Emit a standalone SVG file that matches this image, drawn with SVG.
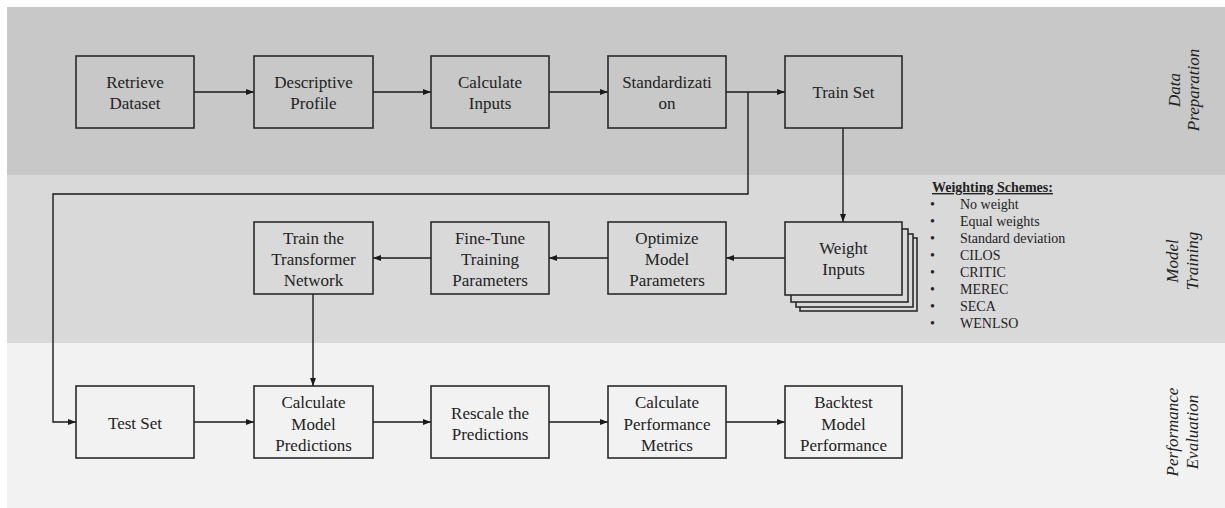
<svg xmlns="http://www.w3.org/2000/svg" width="1225" height="508" viewBox="0 0 1225 508">
<style>
.box{stroke:#2a2a2a;stroke-width:1.6}
.b1{fill:#c8c8c8}.b2{fill:#d9d9d9}.b3{fill:#f2f2f2}
.t{font-family:"Liberation Serif","Times New Roman",serif;font-size:17px;fill:#222;text-anchor:middle}
.lab{font-family:"Liberation Serif","Times New Roman",serif;font-size:17px;font-style:italic;fill:#222;text-anchor:middle}
.ws{font-family:"Liberation Serif","Times New Roman",serif;font-size:14px;fill:#222}
.c{fill:none;stroke:#1a1a1a;stroke-width:1.4}
.a{marker-end:url(#ah)}
</style>
<defs>
<marker id="ah" markerUnits="userSpaceOnUse" markerWidth="9" markerHeight="7" refX="8" refY="3" orient="auto">
<path d="M0,0 L8,3 L0,6 z" fill="#1a1a1a"/>
</marker>
</defs>
<rect width="1225" height="508" fill="#ffffff"/>
<g id="bands">
<rect x="7" y="7" width="1218" height="168" fill="#c8c8c8"/>
<rect x="7" y="175" width="1218" height="168" fill="#d9d9d9"/>
<rect x="7" y="343" width="1218" height="165" fill="#f2f2f2"/>
</g>
<g id="phase-labels">
<g transform="translate(1187,90) rotate(-90)"><text class="lab" y="-7">Data</text><text class="lab" y="12">Preparation</text></g>
<g transform="translate(1187,261) rotate(-90)"><text class="lab" y="-9">Model</text><text class="lab" y="11">Training</text></g>
<g transform="translate(1187,432) rotate(-90)"><text class="lab" y="-9">Performance</text><text class="lab" y="11">Evaluation</text></g>
</g>
<g id="connectors">
<line class="c a" x1="194" y1="92" x2="254" y2="92"/>
<line class="c a" x1="373" y1="92" x2="431" y2="92"/>
<line class="c a" x1="549" y1="92" x2="608" y2="92"/>
<line class="c a" x1="726" y1="92" x2="785" y2="92"/>
<polyline class="c a" points="748,92 748,194 53,194 53,422 76,422"/>
<line class="c a" x1="843" y1="128" x2="843" y2="222"/>
<line class="c a" x1="785" y1="258" x2="726" y2="258"/>
<line class="c a" x1="608" y1="258" x2="549" y2="258"/>
<line class="c a" x1="431" y1="258" x2="373" y2="258"/>
<line class="c a" x1="313" y1="294" x2="313" y2="386"/>
<line class="c a" x1="194" y1="422" x2="254" y2="422"/>
<line class="c a" x1="373" y1="422" x2="431" y2="422"/>
<line class="c a" x1="549" y1="422" x2="608" y2="422"/>
<line class="c a" x1="726" y1="422" x2="785" y2="422"/>
</g>
<g id="retrieve-dataset"><rect class="box b1" x="76" y="56" width="118" height="72"/><text class="t" x="135" y="88">Retrieve</text><text class="t" x="135" y="109">Dataset</text></g>
<g id="descriptive-profile"><rect class="box b1" x="254" y="56" width="119" height="72"/><text class="t" x="313.5" y="88">Descriptive</text><text class="t" x="313.5" y="109">Profile</text></g>
<g id="calculate-inputs"><rect class="box b1" x="431" y="56" width="118" height="72"/><text class="t" x="490" y="88">Calculate</text><text class="t" x="490" y="109">Inputs</text></g>
<g id="standardization"><rect class="box b1" x="608" y="56" width="118" height="72"/><text class="t" x="667" y="88">Standardizati</text><text class="t" x="667" y="109">on</text></g>
<g id="train-set"><rect class="box b1" x="785" y="56" width="117" height="72"/><text class="t" x="843.5" y="98">Train Set</text></g>
<g id="weight-inputs">
<rect class="box b2" x="800" y="238" width="117" height="73"/>
<rect class="box b2" x="796" y="234" width="117" height="73"/>
<rect class="box b2" x="791" y="229" width="117" height="73"/>
<rect class="box b2" x="785" y="222" width="117" height="73"/>
<text class="t" x="843.5" y="254">Weight</text><text class="t" x="843.5" y="275">Inputs</text>
</g>
<g id="optimize-model-parameters"><rect class="box b2" x="608" y="222" width="118" height="72"/><text class="t" x="667" y="244">Optimize</text><text class="t" x="667" y="265">Model</text><text class="t" x="667" y="286">Parameters</text></g>
<g id="fine-tune-training-parameters"><rect class="box b2" x="431" y="222" width="118" height="72"/><text class="t" x="490" y="244">Fine-Tune</text><text class="t" x="490" y="265">Training</text><text class="t" x="490" y="286">Parameters</text></g>
<g id="train-transformer-network"><rect class="box b2" x="254" y="222" width="119" height="72"/><text class="t" x="313.5" y="244">Train the</text><text class="t" x="313.5" y="265">Transformer</text><text class="t" x="313.5" y="286">Network</text></g>
<g id="weighting-schemes">
<text class="ws" x="932" y="192" font-weight="bold" text-decoration="underline">Weighting Schemes:</text>
<g class="ws">
<text x="930" y="209">•</text><text x="960" y="209">No weight</text>
<text x="930" y="226">•</text><text x="960" y="226">Equal weights</text>
<text x="930" y="243">•</text><text x="960" y="243">Standard deviation</text>
<text x="930" y="260">•</text><text x="960" y="260">CILOS</text>
<text x="930" y="277">•</text><text x="960" y="277">CRITIC</text>
<text x="930" y="294">•</text><text x="960" y="294">MEREC</text>
<text x="930" y="311">•</text><text x="960" y="311">SECA</text>
<text x="930" y="328">•</text><text x="960" y="328">WENLSO</text>
</g>
</g>
<g id="test-set"><rect class="box b3" x="76" y="386" width="118" height="72"/><text class="t" x="135" y="429">Test Set</text></g>
<g id="calculate-model-predictions"><rect class="box b3" x="254" y="386" width="119" height="72"/><text class="t" x="313.5" y="408">Calculate</text><text class="t" x="313.5" y="430">Model</text><text class="t" x="313.5" y="451">Predictions</text></g>
<g id="rescale-predictions"><rect class="box b3" x="431" y="386" width="118" height="72"/><text class="t" x="490" y="419">Rescale the</text><text class="t" x="490" y="440">Predictions</text></g>
<g id="calculate-performance-metrics"><rect class="box b3" x="608" y="386" width="118" height="72"/><text class="t" x="667" y="408">Calculate</text><text class="t" x="667" y="430">Performance</text><text class="t" x="667" y="451">Metrics</text></g>
<g id="backtest-model-performance"><rect class="box b3" x="785" y="386" width="117" height="72"/><text class="t" x="843.5" y="408">Backtest</text><text class="t" x="843.5" y="430">Model</text><text class="t" x="843.5" y="451">Performance</text></g>
</svg>
